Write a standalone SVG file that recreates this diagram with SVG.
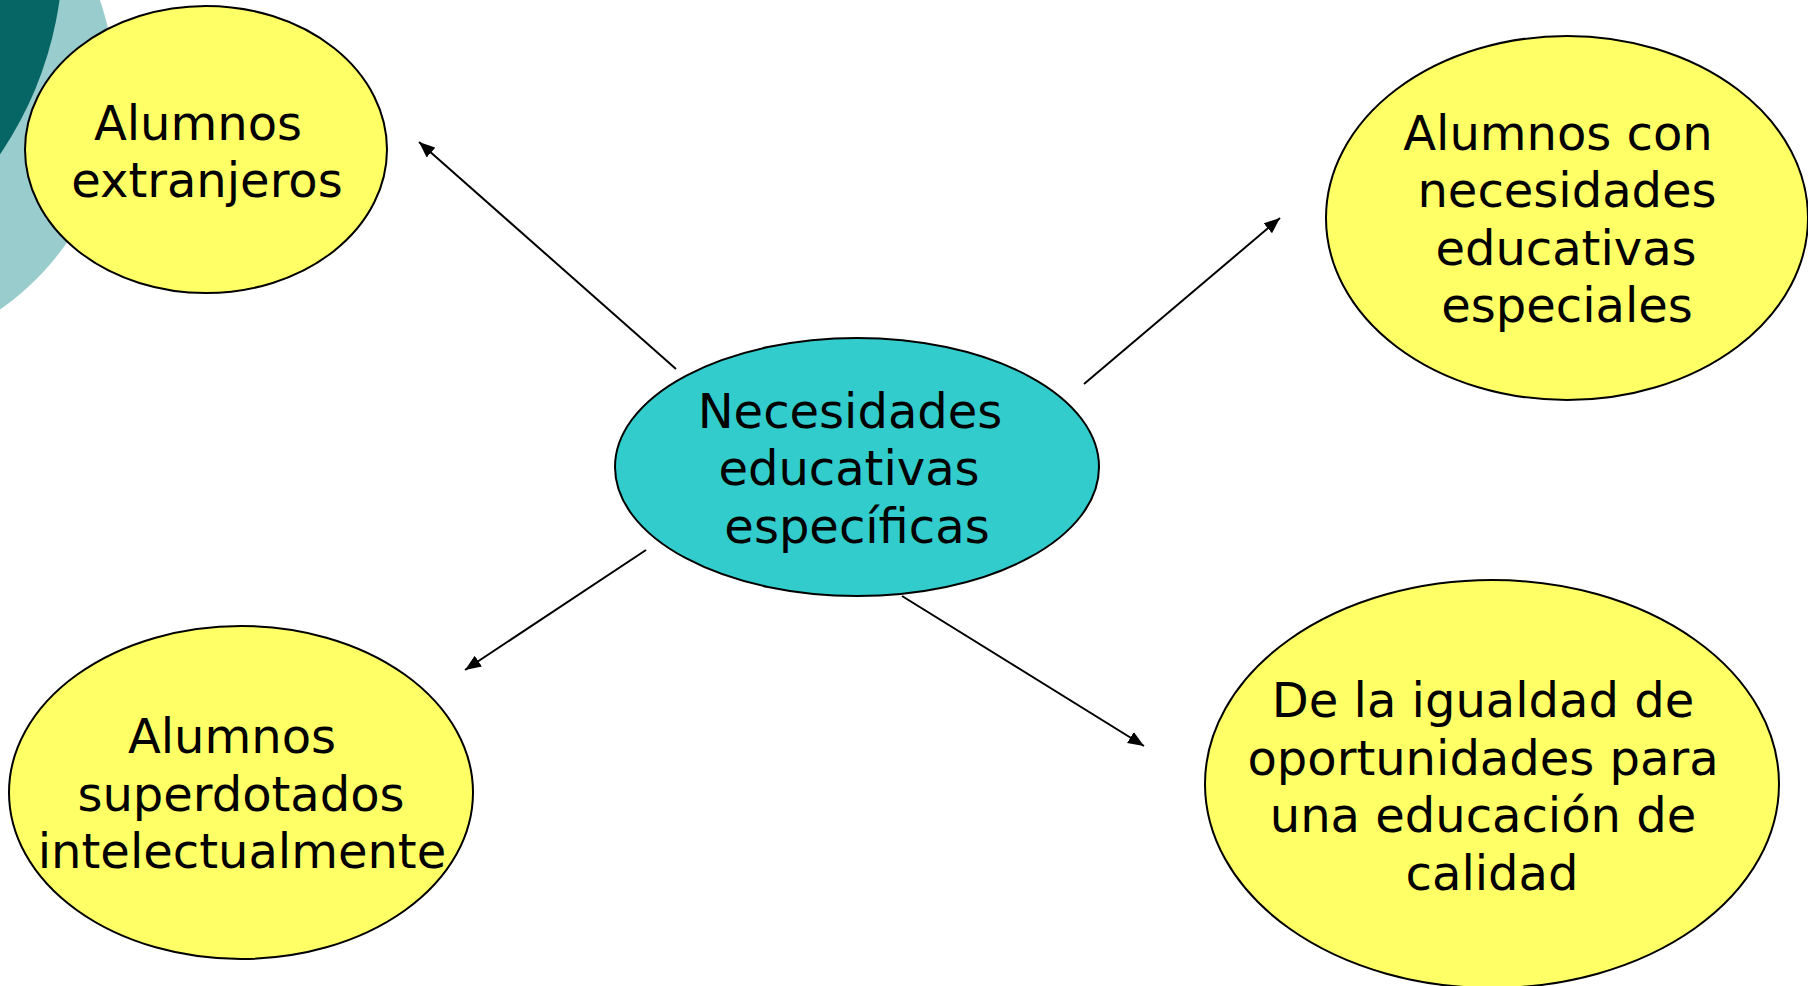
<svg xmlns="http://www.w3.org/2000/svg" width="1808" height="986" viewBox="0 0 1808 986">
<style>
.bg{fill:#ffffff}
.node ellipse{stroke:#000000;stroke-width:2}
.yellow{fill:#ffff66}
.center{fill:#33cccc}
.label{font-family:"DejaVu Sans","Verdana",sans-serif;font-size:48px;fill:#000000;text-anchor:middle}
.conn line{stroke:#000000;stroke-width:2;marker-end:url(#arrow)}
</style>
<defs>
<marker id="arrow" markerUnits="userSpaceOnUse" markerWidth="18" markerHeight="14" refX="16" refY="6.5" orient="auto">
<path d="M0,0 L16,6.5 L0,13 z" fill="#000000"/>
</marker>
</defs>
<rect class="bg" x="0" y="0" width="1808" height="986"/>
<g id="decoration">
<circle cx="-154" cy="89" r="269" fill="#99cccc"/>
<circle cx="-300" cy="-50" r="363" fill="#066666"/>
</g>
<g id="connectors" class="conn">
<line x1="676" y1="369" x2="419" y2="142"/>
<line x1="1084" y1="384" x2="1280" y2="218"/>
<line x1="646" y1="550" x2="465" y2="670"/>
<line x1="902" y1="596" x2="1144" y2="746"/>
</g>
<g id="node-extranjeros" class="node">
<ellipse class="yellow" cx="206" cy="149.5" rx="181" ry="143.5"/>
<text class="label" x="198" y="140">Alumnos</text>
<text class="label" x="207" y="197">extranjeros</text>
</g>
<g id="node-center" class="node">
<ellipse class="center" cx="857" cy="467" rx="242" ry="129"/>
<text class="label" x="850" y="428">Necesidades</text>
<text class="label" x="849" y="485">educativas</text>
<text class="label" x="857" y="543">específicas</text>
</g>
<g id="node-nee" class="node">
<ellipse class="yellow" cx="1567" cy="218" rx="241" ry="182"/>
<text class="label" x="1558" y="150">Alumnos con</text>
<text class="label" x="1567" y="207">necesidades</text>
<text class="label" x="1566" y="265">educativas</text>
<text class="label" x="1567" y="322">especiales</text>
</g>
<g id="node-superdotados" class="node">
<ellipse class="yellow" cx="241" cy="792.5" rx="232" ry="166.5"/>
<text class="label" x="232" y="753">Alumnos</text>
<text class="label" x="241" y="811">superdotados</text>
<text class="label" x="242" y="868">intelectualmente</text>
</g>
<g id="node-igualdad" class="node">
<ellipse class="yellow" cx="1492" cy="784" rx="287" ry="204"/>
<text class="label" x="1483" y="717">De la igualdad de</text>
<text class="label" x="1483" y="775">oportunidades para</text>
<text class="label" x="1483" y="832">una educación de</text>
<text class="label" x="1492" y="890">calidad</text>
</g>
</svg>
